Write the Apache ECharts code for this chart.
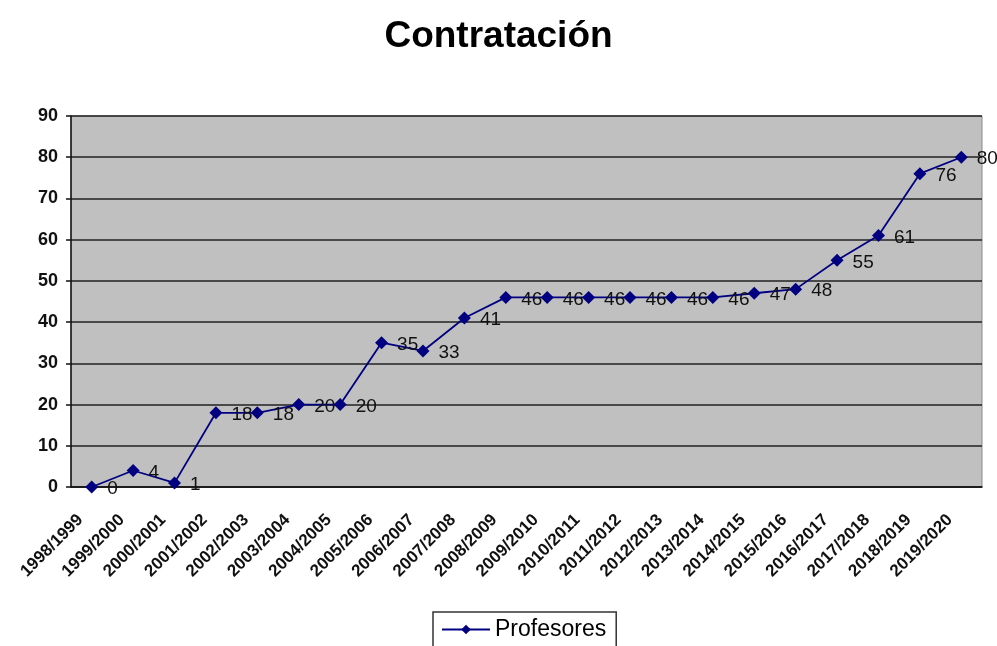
<!DOCTYPE html>
<html>
<head>
<meta charset="utf-8">
<script src="https://cdn.jsdelivr.net/npm/echarts@6/dist/echarts.min.js"></script>
<style>
  html, body { margin: 0; padding: 0; background: #fff; }
  #chart { width: 997px; height: 646px; }
</style>
</head>
<body>
<div id="chart"></div>
<script>
const cursos = [
  '1998/1999', '1999/2000', '2000/2001', '2001/2002', '2002/2003', '2003/2004',
  '2004/2005', '2005/2006', '2006/2007', '2007/2008', '2008/2009', '2009/2010',
  '2010/2011', '2011/2012', '2012/2013', '2013/2014', '2014/2015', '2015/2016',
  '2016/2017', '2017/2018', '2018/2019', '2019/2020'
]
const profesores = [0, 4, 1, 18, 18, 20, 20, 35, 33, 41, 46, 46, 46, 46, 46, 46, 47, 48, 55, 61, 76, 80]

const font = '"Liberation Sans", Arial, sans-serif'
const chart = echarts.init(document.getElementById('chart'))

chart.setOption({
  animation: false,
  title: {
    text: 'Contratación',
    left: 'center',
    top: 13,
    textStyle: { fontFamily: font, fontSize: 37, fontWeight: 'bold', color: '#000' }
  },
  legend: {
    top: 612,
    left: 433,
    data: ['Profesores'],
    backgroundColor: '#fff',
    borderColor: '#333',
    borderWidth: 1.5,
    borderRadius: 0,
    padding: [6, 10, 12, 8],
    itemWidth: 48,
    itemHeight: 12,
    textStyle: { fontFamily: font, fontSize: 23, color: '#000' }
  },
  grid: {
    left: 71, right: 15, top: 116, bottom: 159,
    show: true,
    backgroundColor: '#c0c0c0',
    borderColor: '#8a8a8a',
    borderWidth: 1
  },
  xAxis: {
    type: 'category',
    data: cursos,
    boundaryGap: true,
    axisLine: { lineStyle: { color: '#111', width: 1.5 } },
    axisTick: { alignWithLabel: false, length: 5, lineStyle: { color: '#111', width: 1.5 } },
    axisLabel: {
      interval: 0,
      rotate: 45,
      margin: 19,
      padding: [0, 16, 0, 0],
      fontFamily: font,
      fontSize: 17,
      fontWeight: 'bold',
      color: '#111'
    }
  },
  yAxis: {
    type: 'value',
    min: 0,
    max: 90,
    interval: 10,
    axisLine: { show: true, lineStyle: { color: '#111', width: 1.5 } },
    axisTick: { show: true, length: 5, lineStyle: { color: '#111', width: 1.5 } },
    splitLine: { lineStyle: { color: '#222', width: 1.5 } },
    axisLabel: {
      margin: 13,
      fontFamily: font,
      fontSize: 18,
      fontWeight: 'bold',
      color: '#111'
    }
  },
  series: [{
    name: 'Profesores',
    type: 'line',
    data: profesores,
    symbol: 'diamond',
    symbolSize: 13,
    itemStyle: { color: '#000080' },
    lineStyle: { color: '#000080', width: 1.8 },
    label: {
      show: true,
      position: 'right',
      distance: 9,
      offset: [0, 2],
      fontFamily: font,
      fontSize: 19,
      color: '#111'
    }
  }]
})
</script>
</body>
</html>
